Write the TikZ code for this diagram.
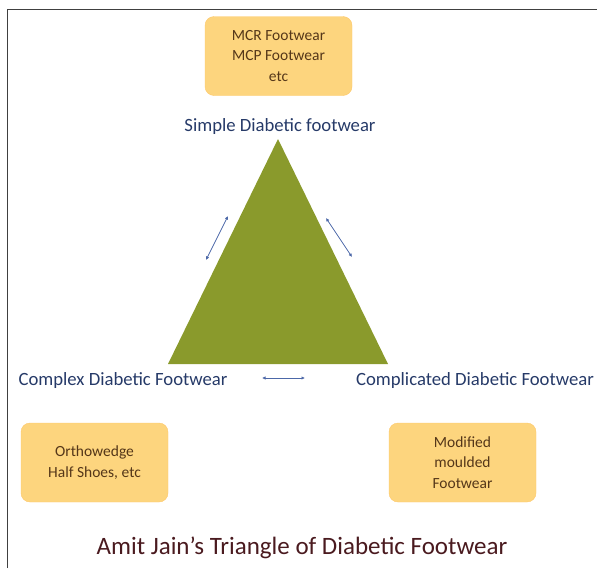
\documentclass[tikz,border=0pt]{standalone}
\usepackage{fontspec}
\setmainfont{Carlito}
\usepackage{tikz}
\usetikzlibrary{arrows.meta}
\definecolor{olive}{HTML}{8A9A2C}
\definecolor{boxfill}{HTML}{FDD57E}
\definecolor{boxtext}{HTML}{553719}
\definecolor{labelblue}{HTML}{263A68}
\definecolor{titlered}{HTML}{4A1A1F}
\definecolor{arrowblue}{HTML}{4C68A8}
\tikzset{
  footbox/.style={rounded corners=9pt, fill=boxfill, draw=boxfill!85!orange, text=boxtext,
    align=center, minimum width=147pt, minimum height=79pt, font=\fontsize{15.5}{20.5}\selectfont},
  corner/.style={text=labelblue, font=\fontsize{18.7}{22}\selectfont},
  twoway/.style={arrowblue, line width=0.7pt, {Latex[length=3.5pt,width=3.5pt]}-{Latex[length=3.5pt,width=3.5pt]}}
}

\begin{document}
\begin{tikzpicture}[x=1pt, y=-1pt]
\useasboundingbox (0,0) rectangle (597,568);
\draw[line width=1.6pt, black!75] (7.5,568) -- (7.5,9.5) -- (597,9.5);
% triangle
\coordinate (t1) at (278,139);
\coordinate (t2) at (168,364);
\coordinate (t3) at (388,364);
\fill[olive] (t1) -- (t2) -- (t3) -- cycle;
% boxes
\node[footbox] at (278.5,56) (b1) {MCR Footwear\\MCP Footwear\\etc};
\node[footbox] at (94.5,462.5) (b2) {Orthowedge\\Half Shoes, etc};
\node[footbox] at (462.5,462.5) (b3) {Modified\\moulded\\Footwear};
% corner labels
\node[corner] at (280,127) (a1) {Simple Diabetic footwear};
\node[corner] at (123,381) (a2) {Complex Diabetic Footwear};
\node[corner] at (475,381) (a3) {Complicated Diabetic Footwear};
\node[text=titlered, font=\fontsize{25}{30}\selectfont] at (302,548) (title) {Amit Jain’s Triangle of Diabetic Footwear};
% arrows
\coordinate (l1) at (206,260);
\coordinate (l2) at (228,216);
\coordinate (r1) at (326,218);
\coordinate (r2) at (352,257);
\coordinate (m1) at (262,378);
\coordinate (m2) at (305,378);
\draw[twoway] (l1) -- (l2);
\draw[twoway] (r1) -- (r2);
\draw[twoway] (m1) -- (m2);
\end{tikzpicture}
\end{document}
